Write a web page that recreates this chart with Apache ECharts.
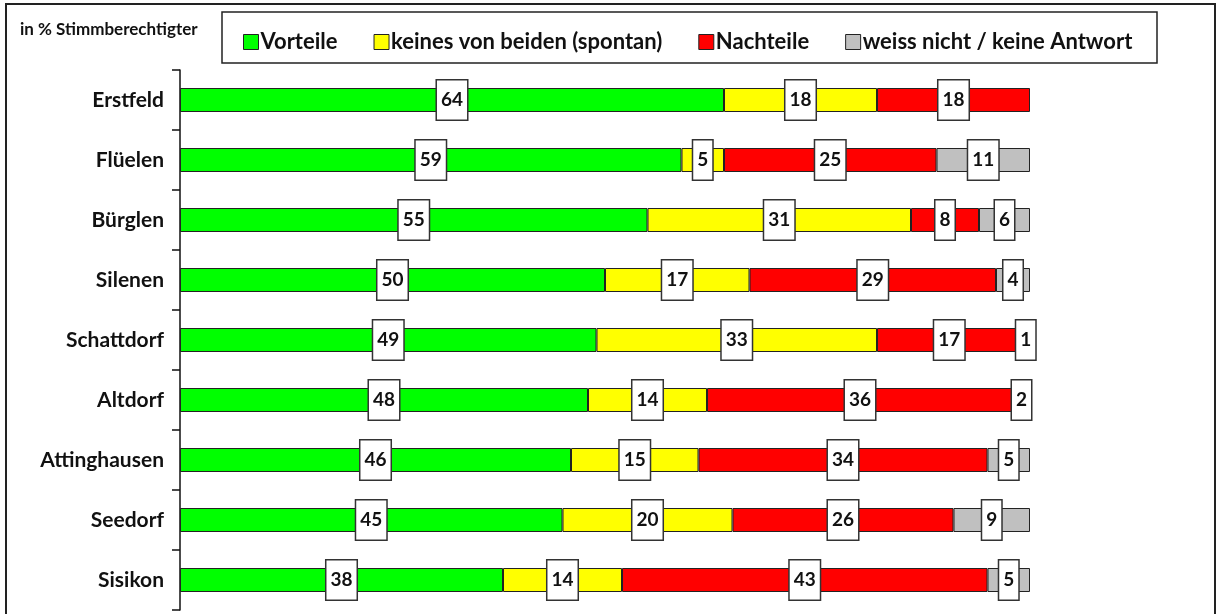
<!DOCTYPE html>
<html>
<head>
<meta charset="utf-8">
<script src="https://cdn.jsdelivr.net/npm/echarts@6/dist/echarts.min.js"></script>
<style>
  html, body { margin: 0; padding: 0; background: #fff; }
  #chart { width: 1217px; height: 614px; }
</style>
</head>
<body>
<div id="chart"></div>
<script>
// Gemeinden (top to bottom)
var gemeinden = ['Erstfeld', 'Flüelen', 'Bürglen', 'Silenen', 'Schattdorf', 'Altdorf', 'Attinghausen', 'Seedorf', 'Sisikon'];

// values in % Stimmberechtigter
var vorteile  = [64, 59, 55, 50, 49, 48, 46, 45, 38];
var keines    = [18, 5, 31, 17, 33, 14, 15, 20, 14];
var nachteile = [18, 25, 8, 29, 17, 36, 34, 26, 43];
var weissNicht = [0, 11, 6, 4, 1, 2, 5, 9, 5];

var seriesNames = ['Vorteile', 'keines von beiden (spontan)', 'Nachteile', 'weiss nicht / keine Antwort'];
var seriesColors = ['#00ff00', '#ffff00', '#ff0000', '#c0c0c0'];

var fontFam = 'Lato, "Open Sans", sans-serif';

var chart = echarts.init(document.getElementById('chart'));

function makeSeries(idx, values) {
  return {
    name: seriesNames[idx],
    type: 'bar',
    stack: 'total',
    barWidth: 24,
    // empty segments are not drawn at all
    data: values.map(function (v) { return v > 0 ? v : '-'; }),
    itemStyle: { color: seriesColors[idx], borderColor: '#222', borderWidth: 1 },
    label: {
      show: true,
      position: 'inside',
      color: '#111',
      fontFamily: fontFam,
      fontWeight: 'bold',
      fontSize: 19,
      lineHeight: 20,
      backgroundColor: '#fff',
      borderColor: '#333',
      borderWidth: 1.5,
      padding: [10, 4, 9, 4]
    },
    emphasis: { disabled: true }
  };
}

chart.setOption({
  animation: false,
  backgroundColor: '#fff',
  grid: { left: 180, right: 187, top: 70, bottom: 4, containLabel: false },
  xAxis: { type: 'value', min: 0, max: 100, show: false },
  yAxis: {
    type: 'category',
    inverse: true,
    data: gemeinden,
    axisLine: { show: true, lineStyle: { color: '#111', width: 1.5 } },
    axisTick: { show: true, length: 8, lineStyle: { color: '#111', width: 1.5 } },
    axisLabel: { color: '#111', fontFamily: fontFam, fontWeight: 'bold', fontSize: 21, margin: 16 }
  },
  legend: {
    left: 238,
    top: 26,
    itemGap: 36,
    itemWidth: 15,
    itemHeight: 15,
    icon: 'rect',
    itemStyle: { borderColor: '#222', borderWidth: 1 },
    textStyle: { color: '#111', fontFamily: fontFam, fontWeight: 'bold', fontSize: 22, padding: [0, 0, 0, -3] },
    data: seriesNames
  },
  graphic: [
    {
      type: 'rect',
      shape: { x: 6, y: 4, width: 1209, height: 640 },
      style: { fill: null, stroke: '#222', lineWidth: 2 },
      silent: true
    },
    {
      type: 'rect',
      shape: { x: 222, y: 12, width: 935, height: 51 },
      style: { fill: '#fff', stroke: '#222', lineWidth: 1.5 },
      z: -1,
      silent: true
    },
    {
      type: 'text',
      left: 20,
      top: 21,
      style: { text: 'in % Stimmberechtigter', fill: '#111', font: 'bold 17px ' + fontFam },
      silent: true
    }
  ],
  series: [
    makeSeries(0, vorteile),
    makeSeries(1, keines),
    makeSeries(2, nachteile),
    makeSeries(3, weissNicht)
  ]
});
</script>
</body>
</html>
